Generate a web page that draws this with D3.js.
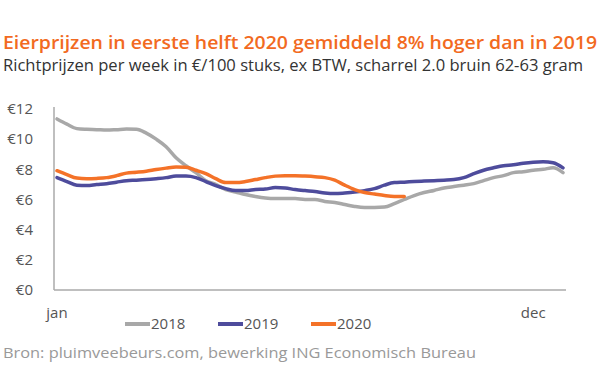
<!DOCTYPE html>
<html>
<head>
<meta charset="utf-8">
<script src="https://cdn.jsdelivr.net/npm/d3@7"></script>
<style>
  body { margin: 0; background: #fff; }
  svg text { font-family: 'Open Sans', sans-serif; }
</style>
</head>
<body>
<div id="chart"></div>
<script>
// weekly prices, €/100 eggs
const weeks = d3.range(1, 53);
const prices2018 = [11.34, 11.0, 10.7, 10.65, 10.63, 10.6, 10.63, 10.67, 10.66, 10.4, 10.0, 9.5, 8.77,
  8.24, 7.78, 7.25, 7.0, 6.66, 6.5, 6.33, 6.2, 6.1, 6.06, 6.06, 6.06, 6.0, 6.0, 5.87, 5.8, 5.67, 5.54,
  5.47, 5.47, 5.5, 5.73, 6.0, 6.26, 6.46, 6.6, 6.76, 6.86, 6.95, 7.05, 7.25, 7.45, 7.58, 7.78, 7.84,
  7.94, 8.0, 8.1, 7.78];
const prices2019 = [7.45, 7.19, 6.95, 6.92, 6.99, 7.05, 7.15, 7.25, 7.28, 7.32, 7.38, 7.45, 7.55, 7.55,
  7.45, 7.19, 6.92, 6.72, 6.59, 6.59, 6.66, 6.69, 6.79, 6.76, 6.66, 6.59, 6.53, 6.43, 6.39, 6.43, 6.49,
  6.59, 6.72, 6.95, 7.12, 7.15, 7.19, 7.22, 7.25, 7.28, 7.32, 7.45, 7.71, 7.94, 8.1, 8.24, 8.3, 8.4,
  8.47, 8.5, 8.44, 8.1];
const prices2020 = [7.91, 7.65, 7.42, 7.38, 7.4, 7.45, 7.58, 7.75, 7.81, 7.88, 7.99, 8.08, 8.15, 8.14,
  7.94, 7.71, 7.38, 7.12, 7.12, 7.19, 7.32, 7.45, 7.55, 7.58, 7.58, 7.55, 7.51, 7.45, 7.28, 6.95, 6.66,
  6.46, 6.36, 6.26, 6.2, 6.2];
const yTicks = [0, 2, 4, 6, 8, 10, 12];
const monthLabels = [{ week: 1, label: 'jan' }, { week: 49, label: 'dec' }];

const series = [
  { name: '2018', values: prices2018, color: '#a8a8a8' },
  { name: '2019', values: prices2019, color: '#4e4c9c' },
  { name: '2020', values: prices2020, color: '#f47228' },
];

const size = { width: 600, height: 387 };
const margin = { top: 108, right: 34, bottom: 97, left: 54 };

const svg = d3.select('#chart').append('svg')
  .attr('width', size.width)
  .attr('height', size.height);

/**
 * Titles
 */
svg.append('text')
  .text('Eierprijzen in eerste helft 2020 gemiddeld 8% hoger dan in 2019')
  .attr('x', 3)
  .attr('y', 49)
  .attr('textLength', 594)
  .attr('lengthAdjust', 'spacingAndGlyphs')
  .style('font-size', '18px')
  .style('font-weight', 600)
  .style('fill', '#f26a21');

svg.append('text')
  .text('Richtprijzen per week in €/100 stuks, ex BTW, scharrel 2.0 bruin 62-63 gram')
  .attr('x', 3)
  .attr('y', 71)
  .attr('textLength', 580)
  .attr('lengthAdjust', 'spacingAndGlyphs')
  .style('font-size', '16px')
  .style('fill', '#333');

/**
 * Scales
 */
const x = d3.scaleLinear()
  .domain([1, 52])
  .range([57, 563]);

const y = d3.scaleLinear()
  .domain([0, 12])
  .range([size.height - margin.bottom, margin.top + 1]);

// y labels
svg.append('g')
  .selectAll('text')
  .data(yTicks)
  .enter()
  .append('text')
  .text((d) => `€${d}`)
  .attr('x', 33)
  .attr('y', (d) => y(d))
  .attr('dy', '0.35em')
  .attr('text-anchor', 'end')
  .style('font-size', '15px')
  .style('fill', '#555');

// axes lines
svg.append('line')
  .attr('x1', margin.left).attr('x2', margin.left)
  .attr('y1', y(12) - 2).attr('y2', y(0))
  .style('stroke', '#aaa')
  .style('stroke-width', 1.5);

svg.append('line')
  .attr('x1', margin.left).attr('x2', 566)
  .attr('y1', y(0)).attr('y2', y(0))
  .style('stroke', '#aaa')
  .style('stroke-width', 1.5);

// month labels
svg.append('g')
  .selectAll('text')
  .data(monthLabels)
  .enter()
  .append('text')
  .text((d) => d.label)
  .attr('x', (d) => x(d.week))
  .attr('y', 318)
  .attr('text-anchor', 'middle')
  .style('font-size', '15px')
  .style('fill', '#555');

/**
 * Lines
 */
const line = d3.line()
  .x((d, i) => x(weeks[i]))
  .y((d) => y(d))
  .curve(d3.curveMonotoneX);

svg.append('g')
  .selectAll('path')
  .data(series)
  .enter()
  .append('path')
  .attr('d', (d) => line(d.values))
  .attr('fill', 'none')
  .attr('stroke', (d) => d.color)
  .attr('stroke-width', 3.5)
  .attr('stroke-linejoin', 'round')
  .attr('stroke-linecap', 'round');

/**
 * Legend
 */
const legend = svg.append('g')
  .selectAll('g')
  .data(series)
  .enter()
  .append('g')
  .attr('transform', (d, i) => `translate(${125 + i * 93}, 324)`);

legend.append('line')
  .attr('x1', 0).attr('x2', 25)
  .attr('y1', 0).attr('y2', 0)
  .attr('stroke', (d) => d.color)
  .attr('stroke-width', 4);

legend.append('text')
  .text((d) => d.name)
  .attr('x', 26)
  .attr('y', 0)
  .attr('dy', '0.35em')
  .style('font-size', '15px')
  .style('fill', '#555');

/**
 * Source
 */
svg.append('text')
  .text('Bron: pluimveebeurs.com, bewerking ING Economisch Bureau')
  .attr('x', 3)
  .attr('y', 358)
  .attr('textLength', 473)
  .attr('lengthAdjust', 'spacingAndGlyphs')
  .style('font-size', '14px')
  .style('fill', '#999');
</script>
</body>
</html>
